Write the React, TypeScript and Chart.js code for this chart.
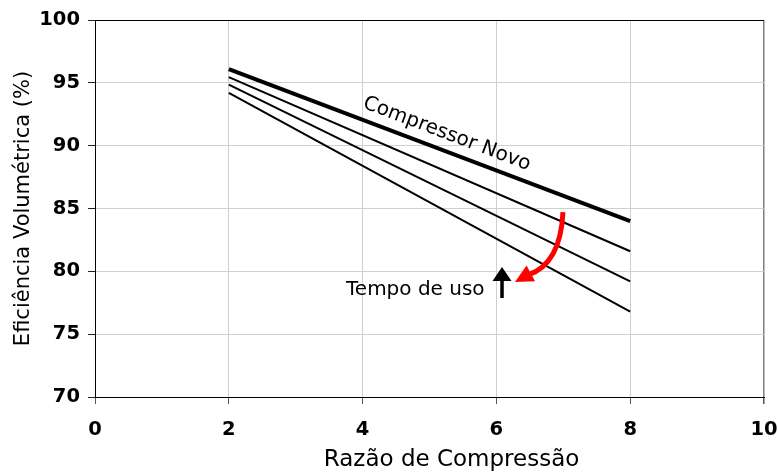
import React, { useEffect, useRef } from "react";
import { Chart, registerables } from "chart.js";

Chart.register(...registerables);

// Data
const compressionRatio = [2, 8];
const compressorNovo = [96.1, 84.0];
const usado1 = [95.45, 81.6];
const usado2 = [94.85, 79.2];
const usado3 = [94.2, 76.8];
const xTickStep = 2;
const yTickStep = 5;
const xRange = [0, 10];
const yRange = [70, 100];

const labelNovo = "Compressor Novo";
const labelTempo = "Tempo de uso";
const xTitle = "Razão de Compressão";
const yTitle = "Eficiência Volumétrica (%)";

const FONT = '"DejaVu Sans", "Liberation Sans", Arial, sans-serif';

const toPoints = (ys: number[]) => compressionRatio.map((x, i) => ({ x, y: ys[i] }));

const annotate = {
  id: "annotate",
  afterDraw(chart: any) {
    const { ctx, scales } = chart;
    const xs = scales.x;
    // x axis title (slightly right of centre as in the original)
    ctx.save();
    ctx.font = `23px ${FONT}`;
    ctx.fillStyle = "#000";
    ctx.textAlign = "center";
    ctx.textBaseline = "alphabetic";
    ctx.fillText(xTitle, xs.getPixelForValue(5.33), chart.height - 9);
    ctx.restore();
  },
  afterDatasetsDraw(chart: any) {
    const { ctx, scales } = chart;
    const xs = scales.x;
    const ys = scales.y;
    const px = (v: number) => xs.getPixelForValue(v);
    const py = (v: number) => ys.getPixelForValue(v);

    // "Compressor Novo" label along the top line
    ctx.save();
    const ang = Math.atan2(
      py(compressorNovo[1]) - py(compressorNovo[0]),
      px(compressionRatio[1]) - px(compressionRatio[0])
    );
    ctx.translate(px(5.26), py(90.93));
    ctx.rotate(ang);
    ctx.font = `20px ${FONT}`;
    ctx.fillStyle = "#000";
    ctx.textAlign = "center";
    ctx.textBaseline = "middle";
    ctx.fillText(labelNovo, 0, 0);
    ctx.restore();

    // "Tempo de uso"
    ctx.save();
    ctx.font = `20px ${FONT}`;
    ctx.fillStyle = "#000";
    ctx.textAlign = "left";
    ctx.textBaseline = "alphabetic";
    ctx.fillText(labelTempo, px(3.752), py(78.12));
    ctx.restore();

    // Black up arrow
    ctx.save();
    const ax = px(6.084);
    const tipY = py(80.35);
    const botY = py(77.88);
    ctx.strokeStyle = "#000";
    ctx.fillStyle = "#000";
    ctx.lineWidth = 3.5;
    ctx.beginPath();
    ctx.moveTo(ax, botY);
    ctx.lineTo(ax, tipY + 8);
    ctx.stroke();
    ctx.beginPath();
    ctx.moveTo(ax, tipY);
    ctx.lineTo(ax - 9.5, tipY + 14);
    ctx.lineTo(ax + 9.5, tipY + 14);
    ctx.closePath();
    ctx.fill();
    ctx.restore();

    // Red curved arrow
    ctx.save();
    const sx = px(6.995), sy = py(84.72);
    const cx = px(6.96), cy = py(80.6);
    const ex = px(6.472), ey = py(79.71);
    const tx = px(6.278), ty = py(79.15);
    ctx.strokeStyle = "#ff0000";
    ctx.fillStyle = "#ff0000";
    ctx.lineWidth = 5;
    ctx.lineCap = "butt";
    ctx.beginPath();
    ctx.moveTo(sx, sy);
    ctx.quadraticCurveTo(cx, cy, ex, ey);
    ctx.stroke();
    const dx = tx - ex, dy = ty - ey;
    const len = Math.hypot(dx, dy);
    const ux = dx / len, uy = dy / len;
    const nx = -uy, ny = ux;
    const headLen = 18, halfW = 9;
    const bx = tx - ux * headLen, by = ty - uy * headLen;
    ctx.beginPath();
    ctx.moveTo(tx, ty);
    ctx.lineTo(bx + nx * halfW, by + ny * halfW);
    ctx.lineTo(bx - nx * halfW, by - ny * halfW);
    ctx.closePath();
    ctx.fill();
    ctx.restore();
  },
};

export default function App() {
  const canvasRef = useRef<HTMLCanvasElement | null>(null);

  useEffect(() => {
    if (!canvasRef.current) return;
    Chart.defaults.font.family = FONT;
    const mkDs = (data: number[], w: number) => ({
      data: toPoints(data),
      borderColor: "#000",
      backgroundColor: "#000",
      borderWidth: w,
      pointRadius: 0,
      tension: 0,
      fill: false,
    });
    const chart = new Chart(canvasRef.current, {
      type: "line",
      data: {
        datasets: [
          mkDs(compressorNovo, 4),
          mkDs(usado1, 2),
          mkDs(usado2, 2),
          mkDs(usado3, 2),
        ],
      },
      options: {
        animation: false,
        responsive: false,
        devicePixelRatio: 1,
        layout: { padding: { top: 20, right: 0, left: 0, bottom: 0 } },
        plugins: { legend: { display: false }, tooltip: { enabled: false } },
        scales: {
          x: {
            type: "linear",
            min: xRange[0],
            max: xRange[1],
            afterFit: (s: any) => {
              s.height = 78;
              s.paddingRight = 14;
              s.paddingLeft = 0;
            },
            ticks: {
              stepSize: xTickStep,
              color: "#000",
              padding: 14,
              maxRotation: 0,
              font: { family: FONT, size: 19.5, weight: "bold" },
            },
            grid: {
              color: (c: any) => (c.tick && c.tick.value === xRange[1] ? "#808080" : "#cfcfcf"),
              lineWidth: (c: any) => (c.tick && c.tick.value === xRange[1] ? 1.5 : 1),
              tickColor: "#555",
              tickLength: 7,
            },
            border: { display: true, color: "#000", width: 1 },
            title: { display: false },
          },
          y: {
            type: "linear",
            min: yRange[0],
            max: yRange[1],
            afterFit: (s: any) => {
              s.width = 95;
            },
            ticks: {
              stepSize: yTickStep,
              color: "#000",
              padding: 8,
              font: { family: FONT, size: 19.5, weight: "bold" },
            },
            grid: {
              color: (c: any) => (c.tick && c.tick.value === yRange[1] ? "#000" : "#cfcfcf"),
              tickColor: "#222",
              tickLength: 7,
            },
            border: { display: true, color: "#000", width: 1 },
            title: {
              display: true,
              text: yTitle,
              color: "#000",
              font: { family: FONT, size: 21, weight: "normal", lineHeight: 1.2 },
              padding: { top: 11, bottom: 0 },
            },
          },
        },
      },
      plugins: [annotate],
    });
    return () => chart.destroy();
  }, []);

  return (
    <div style={{ position: "fixed", left: 0, top: 0, width: 778, height: 475, background: "#fff" }}>
      <canvas ref={canvasRef} width={778} height={475} />
    </div>
  );
}
